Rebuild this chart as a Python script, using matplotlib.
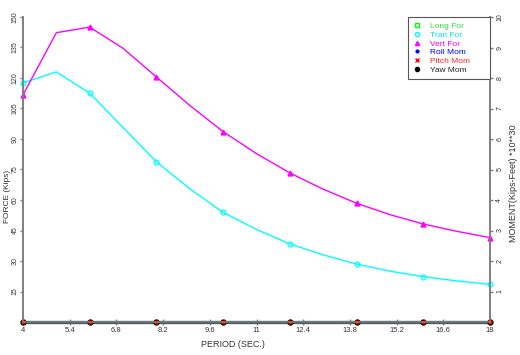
#!/usr/bin/env python3.12
"""Force / moment response vs wave period."""

import matplotlib

matplotlib.use("Agg")
import matplotlib.pyplot as plt
from matplotlib.lines import Line2D

plt.rcParams["font.family"] = ["Liberation Sans", "DejaVu Sans"]

# data
period = [4, 5, 6, 7, 8, 9, 10, 11, 12, 13, 14, 15, 16, 17, 18]
long_for = [0] * 15
tran_for = [117.6, 123.0, 112.5, 95.6, 78.8, 65.5, 53.9, 45.5, 38.4, 33.0,
            28.5, 25.0, 22.3, 20.2, 18.5]
vert_for = [111.7, 142.3, 145.0, 134.6, 120.5, 106.5, 93.6, 82.8, 73.3, 65.3,
            58.4, 52.8, 48.2, 44.6, 41.5]
roll_mom = [0] * 15
pitch_mom = [0] * 15
yaw_mom = [0] * 15

x_ticks = [4, 5.4, 6.8, 8.2, 9.6, 11, 12.4, 13.8, 15.2, 16.6, 18]
x_tick_labels = ["4", "5.4", "6.8", "8.2", "9.6", "11", "12.4", "13.8",
                 "15.2", "16.6", "18"]
force_ticks = [15, 30, 45, 60, 75, 90, 105, 120, 135, 150]
moment_ticks = [1, 2, 3, 4, 5, 6, 7, 8, 9, 10]

AXC = "#808080"
TXT = "#333333"

fig = plt.figure(figsize=(5.2, 3.55), dpi=100)
ax = fig.add_axes([23 / 520, 33 / 355, 467 / 520, 305 / 355])
ax2 = ax.twinx()

# zero-valued series sit on the x axis
ax.plot(period, long_for, color="#00ff00", lw=1, marker="s", ms=3.5,
        mfc="none", markevery=2, zorder=3, clip_on=False)
ax.plot(period, roll_mom, color="#0000ff", lw=1, marker="o", ms=2,
        markevery=2, zorder=3, clip_on=False)
ax.plot(period, yaw_mom, color="#000000", lw=1, marker="o", ms=3.5,
        markevery=2, zorder=4, clip_on=False)
ax.plot(period, pitch_mom, color="#ff0000", lw=0, marker="x", ms=3,
        mew=1, markevery=2, zorder=5, clip_on=False)

ax.plot(period, tran_for, color="#00ffff", lw=1.0, marker="o", ms=3.5,
        mfc="none", mew=0.9, markevery=2, zorder=3, clip_on=False)
ax.plot(period, vert_for, color="#ff00ff", lw=1.0, marker="^", ms=3.5,
        markevery=2, zorder=3, clip_on=False)

ax.set_xlim(4, 18)
ax.set_ylim(0, 150)
ax2.set_ylim(0, 10)

ax.set_xticks(x_ticks)
ax.set_xticklabels(x_tick_labels, fontsize=5.5, color=TXT)
ax.set_yticks(force_ticks)
ax.set_yticklabels([str(v) for v in force_ticks], fontsize=5,
                   color=TXT, rotation=90, va="center")
ax2.set_yticks(moment_ticks)
ax2.set_yticklabels([str(v) for v in moment_ticks], fontsize=5,
                    color=TXT, rotation=90, va="center")

ax.tick_params(axis="x", direction="inout", length=5, width=1, color=AXC,
               pad=1)
ax.tick_params(axis="y", direction="out", length=2.5, width=1, color=AXC,
               pad=0.6)
ax2.tick_params(axis="y", direction="out", length=2.5, width=1, color=AXC,
                pad=2)

for a in (ax, ax2):
    a.spines["top"].set_visible(False)
    for s in ("left", "right", "bottom"):
        a.spines[s].set_color(AXC)
        a.spines[s].set_linewidth(1.2)
ax.spines["bottom"].set_linewidth(2.5)
ax.spines["bottom"].set_zorder(2)

ax.set_xlabel("PERIOD (SEC.)", fontsize=6.5, color=TXT)
ax.xaxis.set_label_coords(0.45, -0.06)
ax.set_ylabel("FORCE (Kips)", fontsize=6, color=TXT)
ax.yaxis.set_label_coords(-0.025, 0.413)
ax2.set_ylabel("MOMENT(Kips-Feet) *10**30", fontsize=6.5, color=TXT)
ax2.yaxis.set_label_coords(1.04, 0.455)

handles = [
    Line2D([], [], ls="none", marker="s", ms=3, mfc="none", color="#00ff00"),
    Line2D([], [], ls="none", marker="o", ms=3, mfc="none", color="#00ffff"),
    Line2D([], [], ls="none", marker="^", ms=3, color="#ff00ff"),
    Line2D([], [], ls="none", marker="o", ms=2, color="#0000ff"),
    Line2D([], [], ls="none", marker="x", ms=3, color="#ff0000"),
    Line2D([], [], ls="none", marker="o", ms=3, color="#000000"),
]
labels = ["Long For", "Tran For", "Vert For", "Roll Mom", "Pitch Mom",
          "Yaw Mom"]
text_colors = ["#33dd33", "#00e5e5", "#ee00ee", "#0000ee", "#ff2222",
               "#222222"]
leg = ax2.legend(handles, labels, loc="upper right",
                 bbox_to_anchor=(385 / 467, 0.0, 82 / 467, 1.0),
                 mode="expand", fontsize=6, frameon=True,
                 fancybox=False, edgecolor="#555555", framealpha=1,
                 borderpad=0.6, labelspacing=0.12, handlelength=1.0,
                 handletextpad=1.1, borderaxespad=0)
leg.get_frame().set_linewidth(0.8)
for txt, c in zip(leg.get_texts(), text_colors):
    txt.set_color(c)

fig.savefig("out.png", dpi=100, facecolor="white")
